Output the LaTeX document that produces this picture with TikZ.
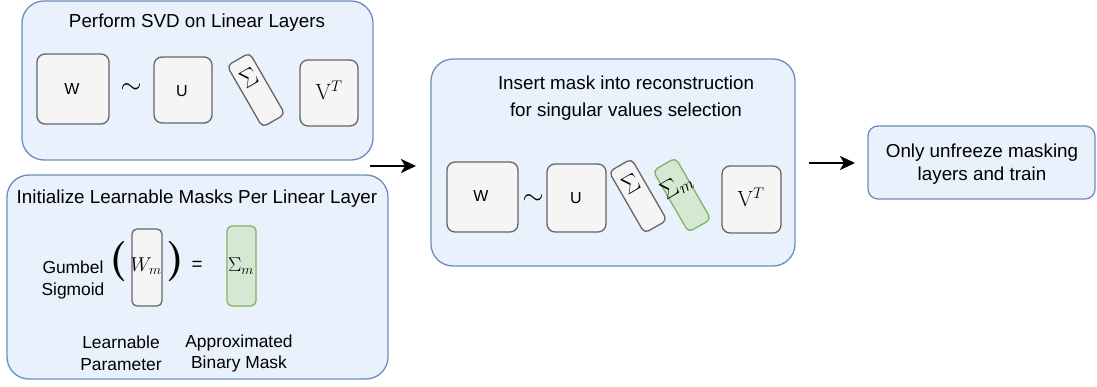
\RequirePackage{fix-cm}
\documentclass[tikz,border=0pt]{standalone}
\usepackage[no-math]{fontspec}
\setmainfont{Liberation Sans}
\usetikzlibrary{arrows.meta,calc}
\definecolor{bfill}{HTML}{E8F1FC}
\definecolor{bdraw}{HTML}{6C8EBF}
\definecolor{gfill}{HTML}{F5F5F5}
\definecolor{gdraw}{HTML}{666666}
\definecolor{grfill}{HTML}{D5E8D4}
\definecolor{grdraw}{HTML}{82B366}
\begin{document}
\begin{tikzpicture}[x=1pt,y=-1pt,
  panel/.style={draw=bdraw,fill=bfill,line width=1.3pt,rounded corners=22pt,inner sep=0pt},
  smallpanel/.style={draw=bdraw,fill=bfill,line width=1.3pt,rounded corners=10pt,inner sep=0pt},
  mat/.style={draw=gdraw,fill=gfill,line width=1.3pt,rounded corners=8pt,inner sep=0pt},
  thinmat/.style={draw=gdraw,fill=gfill,line width=1.3pt,rounded corners=5pt,inner sep=0pt},
  greenmat/.style={draw=grdraw,fill=grfill,line width=1.3pt,rounded corners=5pt,inner sep=0pt},
  rotmat/.style={mat,rounded corners=5pt,minimum width=26,minimum height=71,rotate=30},
  big/.style={font=\fontsize{18.8}{22.6}\selectfont,inner sep=0pt},
  lab/.style={font=\fontsize{17.4}{21.5}\selectfont,inner sep=0pt,align=center},
  letter/.style={font=\fontsize{16}{19}\selectfont,inner sep=0pt},
  mth/.style={font=\fontsize{22}{26}\selectfont,inner sep=0pt},
  rmth/.style={font=\fontsize{25}{29}\selectfont,inner sep=0pt,rotate=30},
  simsym/.style={font=\fontsize{27}{30}\selectfont,inner sep=0pt},
  paren/.style={font=\fontsize{40}{44}\selectfont\boldmath,inner sep=0pt},
  arr/.style={line width=2.3pt,-{Stealth[length=15pt,width=14pt,inset=4pt]}}
]
\useasboundingbox (0,0) rectangle (1097,387);

% panel 1
\node[panel,minimum width=351,minimum height=159] (p1) at (197.5,80.5) {};
\node[big] (t1) at (197,23) {Perform SVD on Linear Layers};
\node[mat,minimum width=72,minimum height=70] (w1) at (73,89) {};
\node[letter] (w1t) at (72,89) {W};
\node[simsym] (sim1) at (131,89) {$\sim$};
\node[mat,minimum width=58,minimum height=66] (u1) at (183,90) {};
\node[letter] (u1t) at (182,91) {U};
\node[rotmat] (s1) at (256,90) {};
\node[rmth] (s1t) at ($(s1.center)!0.4!(s1.north)$) {$\Sigma$};
\node[mat,minimum width=58,minimum height=66] (v1) at (329,93) {};
\node[mth] (v1t) at (329,90) {$\mathrm{V}^T$};

% panel 2
\node[panel,minimum width=381,minimum height=204] (p2) at (197.5,277) {};
\node[big] (t2) at (197,199) {Initialize Learnable Masks Per Linear Layer};
\node[lab] (gs) at (73,280) {Gumbel\\Sigmoid};
\node[paren] (lp) at (118,262) {$($};
\node[paren] (rp) at (175,262) {$)$};
\node[thinmat,minimum width=30,minimum height=77] (wm) at (147,267.5) {};
\node[font=\fontsize{20}{24}\selectfont,inner sep=0pt] (wmt) at (146,266) {$W_m$};
\node[big] (eq) at (197,266) {=};
\node[greenmat,minimum width=29,minimum height=80] (sm) at (241.5,266) {};
\node[font=\fontsize{20}{24}\selectfont,inner sep=0pt] (smt) at (241,266) {$\Sigma_m$};
\node[lab] (lpar) at (121,353.5) {Learnable\\Parameter};
\node[lab] (abm) at (239,353.5) {Approximated\\Binary Mask};

% panel 3
\node[panel,minimum width=364,minimum height=207] (p3) at (613,162.5) {};
\node[big,align=center,font=\fontsize{18.8}{27}\selectfont] (t3) at (626,98.5) {Insert mask into reconstruction\\for singular values selection};
\node[mat,minimum width=71,minimum height=70] (w3) at (482.5,197) {};
\node[letter] (w3t) at (481,196) {W};
\node[simsym] (sim3) at (533,200) {$\sim$};
\node[mat,minimum width=59,minimum height=68] (u3) at (576.5,198) {};
\node[letter] (u3t) at (576,198) {U};
\node[rotmat] (s3) at (638,196) {};
\node[rmth] (s3t) at ($(s3.center)!0.4!(s3.north)$) {$\Sigma$};
\node[rotmat,draw=grdraw,fill=grfill] (sm3) at (682,195) {};
\node[rmth] (sm3t) at ($(sm3.center)!0.28!(sm3.north)$) {$\Sigma_m$};
\node[mat,minimum width=59,minimum height=67] (v3) at (751.5,199.5) {};
\node[mth] (v3t) at (751,197) {$\mathrm{V}^T$};

% panel 4
\node[smallpanel,minimum width=227,minimum height=73] (p4) at (981.5,162.5) {};
\node[big,align=center] (t4) at (982,164) {Only unfreeze masking\\layers and train};

% arrows
\coordinate (a1s) at (370,166);
\coordinate (a1e) at (416,166);
\coordinate (a2s) at (809,163);
\coordinate (a2e) at (855,163);
\draw[arr] (a1s) -- (a1e);
\draw[arr] (a2s) -- (a2e);
\end{tikzpicture}
\end{document}
